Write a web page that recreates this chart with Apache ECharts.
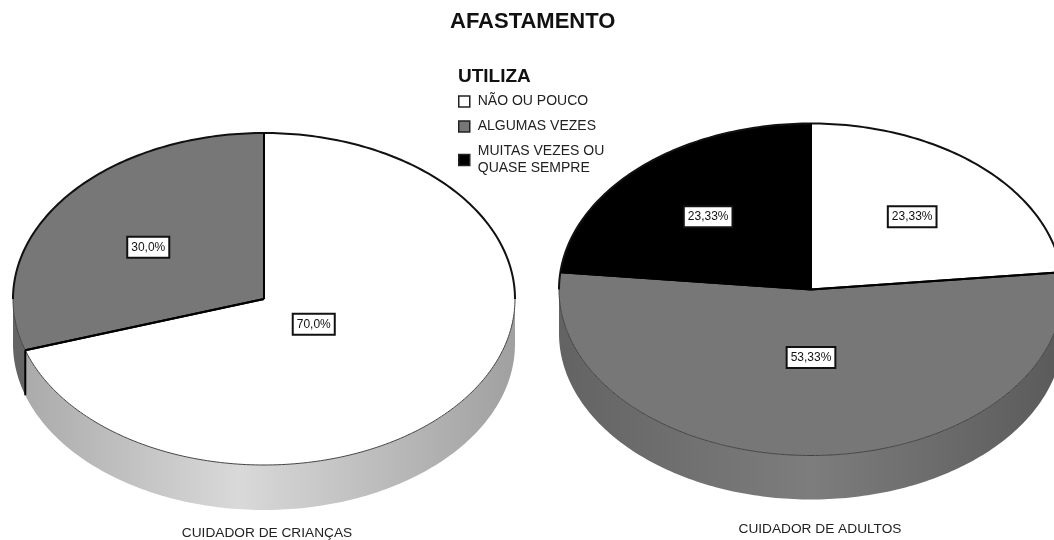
<!DOCTYPE html>
<html><head><meta charset="utf-8">
<style>html,body{margin:0;padding:0;background:#fff}#c{width:1054px;height:540px}</style>
<script src="https://cdn.jsdelivr.net/npm/echarts@6/dist/echarts.min.js"></script>
</head><body><div id="c"></div>
<script>
// Data
const chartTitle = 'AFASTAMENTO';
const legendTitle = 'UTILIZA';
const panels = ['CUIDADOR DE CRIANÇAS', 'CUIDADOR DE ADULTOS'];
const categories = ['NÃO OU POUCO', 'ALGUMAS VEZES', 'MUITAS VEZES OU\nQUASE SEMPRE'];
const naoOuPouco = [70.0, 23.33];
const algumasVezes = [30.0, 53.33];
const muitasVezes = [0, 23.33];
const valueLabels = [['70,0%', '23,33%'], ['30,0%', '53,33%'], [null, '23,33%']];
const seriesValues = [naoOuPouco, algumasVezes, muitasVezes];

// Layout and style
const geometry = [
  { cx: 264, cy: 299, rx: 251, ry: 166, depth: 45 },
  { cx: 811, cy: 289.5, rx: 252, ry: 166, depth: 44 }
];
const labelRadiusX = [[0.245, 0.6], [0.57, 0.41], [0, 0.61]];
const labelRadiusY = [[0.26, 0.59], [0.53, 0.41], [0, 0.59]];
const topColors = ['#ffffff', '#777777', '#000000'];
const wallStops = [
  [[0, '#a8a8a8'], [0.45, '#d9d9d9'], [1, '#a0a0a0']],
  [[0, '#636363'], [0.5, '#7d7d7d'], [1, '#5a5a5a']],
  [[0, '#111111'], [1, '#111111']]
];
const FONT = '"Liberation Sans", Arial, sans-serif';

function pt(g, deg, dy) {
  const a = deg * Math.PI / 180;
  return [g.cx + g.rx * Math.sin(a), g.cy - g.ry * Math.cos(a) + (dy || 0)];
}
function arc(g, from, to, dy) {
  const out = [];
  const n = Math.max(2, Math.ceil(Math.abs(to - from)));
  for (let i = 0; i <= n; i++) out.push(pt(g, from + (to - from) * i / n, dy));
  return out;
}
function polyline(points, color, width, z2) {
  return { type: 'polyline', shape: { points }, z2, silent: true,
    style: { fill: null, stroke: color, lineWidth: width } };
}

function renderSlice(catIndex) {
  return function (params, api) {
    const p = api.value(0), value = api.value(1);
    if (!value) return { type: 'group', children: [] };
    const g = geometry[p];
    const total = seriesValues.reduce((s, v) => s + v[p], 0);
    let before = 0;
    for (let i = 0; i < catIndex; i++) before += seriesValues[i][p];
    const a0 = before / total * 360, a1 = (before + value) / total * 360;
    const children = [];
    // side wall, only where the rim faces the viewer
    const w0 = Math.max(a0, 90), w1 = Math.min(a1, 270);
    if (w1 > w0) {
      children.push({ type: 'polygon', z2: 1, silent: true,
        shape: { points: arc(g, w0, w1, 0).concat(arc(g, w1, w0, g.depth)) },
        style: { fill: new echarts.graphic.LinearGradient(g.cx - g.rx, 0, g.cx + g.rx, 0,
          wallStops[catIndex].map(s => ({ offset: s[0], color: s[1] })), true) } });
    }
    // top face
    children.push({ type: 'polygon', z2: 2, silent: true,
      shape: { points: [[g.cx, g.cy]].concat(arc(g, a0, a1, 0)) },
      style: { fill: topColors[catIndex] } });
    // rim outlines: heavy on the back half, thin along the front
    if (a0 < 90) children.push(polyline(arc(g, a0, Math.min(a1, 90), 0), '#111', 2, 6));
    if (a1 > 270) children.push(polyline(arc(g, Math.max(a0, 270), a1, 0), '#111', 2, 6));
    if (w1 > w0) children.push(polyline(arc(g, w0, w1, 0), '#444', 1, 5));
    // radial edges
    children.push(polyline([pt(g, a0), [g.cx, g.cy]], '#000', 2, 7));
    children.push(polyline([pt(g, a1), [g.cx, g.cy]], '#000', 2, 7));
    // vertical seam on the rim
    if (a1 > 90 && a1 < 270) {
      const s = pt(g, a1);
      children.push(polyline([s, [s[0], s[1] + g.depth]], '#000', 2, 7));
    }
    // value box
    const mid = (a0 + a1) / 2 * Math.PI / 180;
    children.push({ type: 'text', z2: 20, silent: true,
      x: g.cx + labelRadiusX[catIndex][p] * g.rx * Math.sin(mid),
      y: g.cy - labelRadiusY[catIndex][p] * g.ry * Math.cos(mid),
      style: { text: valueLabels[catIndex][p], align: 'center', verticalAlign: 'middle',
        font: '12px ' + FONT, fill: '#111', backgroundColor: '#fff',
        borderColor: '#111', borderWidth: 2, padding: [4, 3, 3, 3] } });
    return { type: 'group', children };
  };
}

const chart = echarts.init(document.getElementById('c'), null, { renderer: 'canvas' });
chart.setOption({
  animation: false,
  backgroundColor: '#ffffff',
  title: [
    { text: chartTitle, left: 445, top: 6, textStyle: { fontFamily: FONT, fontSize: 22, fontWeight: 'bold', color: '#111' } },
    { text: legendTitle, left: 453, top: 62, textStyle: { fontFamily: FONT, fontSize: 19, fontWeight: 'bold', color: '#111' } },
    { text: panels[0], left: 262, textAlign: 'center', top: 521, textStyle: { fontFamily: FONT, fontSize: 13.7, fontWeight: 'normal', color: '#222' } },
    { text: panels[1], left: 815, textAlign: 'center', top: 517, textStyle: { fontFamily: FONT, fontSize: 13.7, fontWeight: 'normal', color: '#222' } }
  ],
  legend: {
    orient: 'vertical', left: 458, top: 93, padding: 0,
    itemWidth: 11, itemHeight: 11, itemGap: 8,
    icon: 'rect', selectedMode: false,
    itemStyle: { borderColor: '#222', borderWidth: 1.5 },
    textStyle: { fontFamily: FONT, fontSize: 14, color: '#222', lineHeight: 17, padding: [0, 0, 0, 3] },
    data: categories
  },
  series: categories.map((name, i) => ({
    type: 'custom', name, coordinateSystem: 'none',
    itemStyle: { color: topColors[i] },
    renderItem: renderSlice(i),
    data: seriesValues[i].map((v, p) => [p, v])
  }))
});
</script></body></html>
